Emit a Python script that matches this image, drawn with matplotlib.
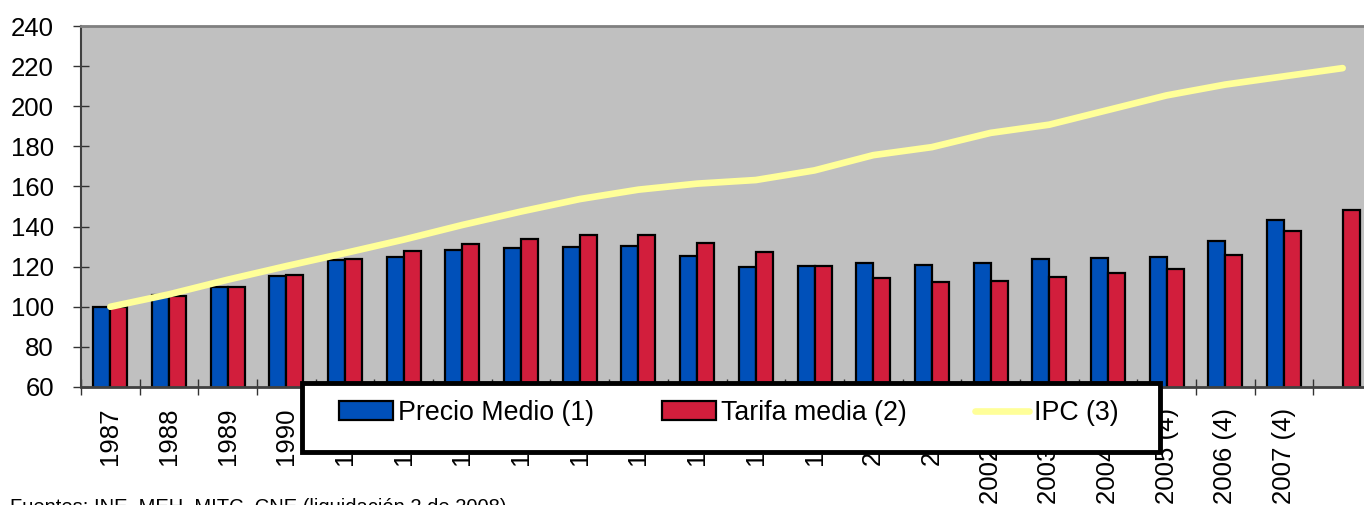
# Precio medio, tarifa media e IPC (base 1987 = 100)
import numpy as np
import matplotlib.pyplot as plt
from matplotlib.patches import Rectangle

plt.rcParams["font.family"] = ["Liberation Sans", "DejaVu Sans"]

years = ["1987", "1988", "1989", "1990", "1991", "1992", "1993", "1994",
         "1995", "1996", "1997", "1998", "1999", "2000", "2001",
         "2002 (4)", "2003 (4)", "2004 (4)", "2005 (4)", "2006 (4)",
         "2007 (4)", ""]
precio_medio = [100, 106, 110, 115.3, 123.3, 124.8, 128.3, 129.1, 129.9,
                130.3, 125.3, 119.7, 120.2, 121.8, 120.6, 121.8, 123.7,
                124.2, 124.7, 132.9, 143.2, np.nan]
tarifa_media = [99.8, 105.5, 110, 115.8, 123.6, 127.8, 131.1, 133.9, 135.9,
                135.9, 131.9, 127.1, 120.2, 114.3, 112.5, 113, 115, 116.7,
                118.8, 125.6, 137.8, 148.2]
ipc = [100, 106.2, 113.5, 120.3, 126.8, 133.5, 140.8, 147.5, 153.7, 158.4,
       161.4, 163.2, 168, 175.6, 179.6, 186.7, 190.8, 198.1, 205.4, 210.8,
       214.9, 219]

fig = plt.figure(figsize=(13.64, 5.05), dpi=100)
W, H = 1364, 505
ax = fig.add_axes([81 / W, 1 - 387 / H, (1372 - 81) / W, (387 - 26) / H])
ax.set_facecolor("#c0c0c0")

x = np.arange(len(years))
bw = 0.29
b1 = ax.bar(x - bw / 2, precio_medio, bw, color="#0050b9", edgecolor="black",
            linewidth=1.6, zorder=2)
b2 = ax.bar(x + bw / 2, tarifa_media, bw, color="#d21e3c", edgecolor="black",
            linewidth=1.6, zorder=2)
ln, = ax.plot(x, ipc, color="#ffff99", linewidth=4.8, solid_capstyle="round",
              zorder=3)

ax.set_xlim(-0.5, len(years) - 0.5)
ax.set_ylim(60, 240)
ax.set_yticks(range(60, 241, 20))
ax.tick_params(axis="y", direction="inout", length=11, width=1,
               labelsize=18.5, pad=14, color="#333333")

# labels at category centres, tick marks at the boundaries
ax.set_xticks(x)
ax.set_xticklabels(years, rotation=90, va="top", ha="center")
ax.tick_params(axis="x", which="major", length=0, labelsize=18.5, pad=15)
ax.set_xticks(np.arange(-0.5, len(years)), minor=True)
ax.tick_params(axis="x", which="minor", direction="inout", length=11,
               width=1, color="#333333")

ax.spines["left"].set_color("#404040")
ax.spines["left"].set_linewidth(1.5)
ax.spines["bottom"].set_color("#404040")
ax.spines["bottom"].set_linewidth(2)
ax.spines["top"].set_color("#808080")
ax.spines["top"].set_linewidth(2)
ax.spines["right"].set_visible(False)

# legend box drawn by hand so it sits exactly like the original
box = Rectangle((302 / W, 1 - 452 / H), (1160 - 302) / W, (452 - 383) / H,
                transform=fig.transFigure, facecolor="white",
                edgecolor="black", linewidth=3.5, zorder=5)
fig.patches.append(box)
leg = fig.legend([b1, b2, ln],
                 ["Precio Medio (1)", "Tarifa media (2)", "IPC (3)"],
                 loc="center left", bbox_to_anchor=(339 / W, 1 - 413 / H),
                 ncol=3, frameon=False, fontsize=19.3, handlelength=2.0,
                 handletextpad=0.2, columnspacing=2.55, borderpad=0,
                 borderaxespad=0)
leg.set_zorder(6)

fig.text(10 / W, 1 - 498 / H,
         "Fuentes: INE, MEH, MITC, CNE (liquidación 2 de 2008)",
         fontsize=14.5, va="top", ha="left")

fig.savefig("out.png", dpi=100)
